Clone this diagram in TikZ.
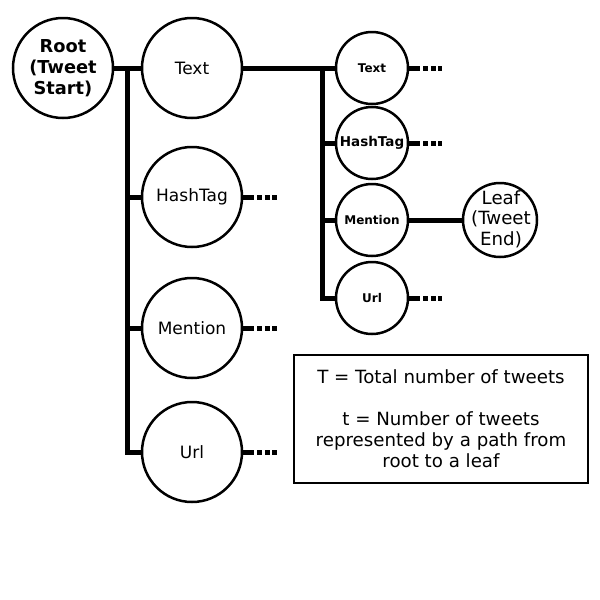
\documentclass[tikz,border=0pt]{standalone}
\usepackage{fontspec}
\setmainfont{DejaVu Sans}
\begin{document}
\begin{tikzpicture}[x=1pt,y=-1pt,
  bigc/.style={circle,draw,line width=2.5pt,minimum size=100pt,inner sep=0pt,font=\fontsize{17}{20}\selectfont},
  rootc/.style={circle,draw,line width=2.5pt,minimum size=100pt,inner sep=0pt,align=center,font=\fontsize{17.8}{21}\selectfont\bfseries},
  smallc/.style={circle,draw,line width=2.5pt,minimum size=72pt,inner sep=0pt,font=\fontsize{12}{14}\selectfont\bfseries},
  leafc/.style={circle,draw,line width=2.5pt,minimum size=74pt,inner sep=0pt},
  leaftxt/.style={align=center,inner sep=0pt,font=\fontsize{18.2}{20.5}\selectfont},
  trunk/.style={line width=5pt},
  dotsline/.style={line width=5pt,dash pattern=on 11pt off 3pt on 5pt off 2.5pt on 5pt off 2.5pt on 5pt off 200pt},
  infobox/.style={draw,line width=2.5pt,minimum width=294pt,minimum height=128pt,inner sep=0pt,align=center,font=\fontsize{18.2}{21}\selectfont}
]
\useasboundingbox (0,0) rectangle (600,600);
\node[rootc] (root) at (63,68) {Root\\(Tweet\\Start)};
\node[bigc] (text) at (192,68) {Text};
\node[bigc] (hash) at (192,197) {HashTag};
\node[bigc] (ment) at (192,328) {Mention};
\node[bigc] (url) at (192,452) {Url};
\node[smallc] (stext) at (372,68) {Text};
\node[smallc,font=\fontsize{13.5}{16}\selectfont\bfseries] (shash) at (372,143) {HashTag};
\node[smallc] (sment) at (372,220) {Mention};
\node[smallc] (surl) at (372,298) {Url};
\node[leafc] (leaf) at (500,220) {};
\node[leaftxt] (leaftext) at (501,219) {Leaf\\(Tweet\\End)};
\node[infobox] (info) at (441,419) {T = Total number of tweets\\[21pt]t = Number of tweets\\represented by a path from\\root to a leaf};
\coordinate (t1) at (127,68);
\coordinate (t2) at (322,68);
\coordinate (d1) at (280,197);
\coordinate (d2) at (280,328);
\coordinate (d3) at (280,452);
\coordinate (d4) at (442,68);
\coordinate (d5) at (442,143);
\coordinate (d6) at (442,298);
\draw[trunk] (root.east) -- (text.west);
\draw[trunk] (t1) |- (hash.west);
\draw[trunk] (t1) |- (ment.west);
\draw[trunk] (t1) |- (url.west);
\draw[trunk] (text.east) -- (stext.west);
\draw[trunk] (t2) |- (shash.west);
\draw[trunk] (t2) |- (sment.west);
\draw[trunk] (t2) |- (surl.west);
\draw[trunk] (sment.east) -- (leaf.west);
\draw[dotsline] (hash.east) -- (d1);
\draw[dotsline] (ment.east) -- (d2);
\draw[dotsline] (url.east) -- (d3);
\draw[dotsline] (stext.east) -- (d4);
\draw[dotsline] (shash.east) -- (d5);
\draw[dotsline] (surl.east) -- (d6);
\end{tikzpicture}
\end{document}
